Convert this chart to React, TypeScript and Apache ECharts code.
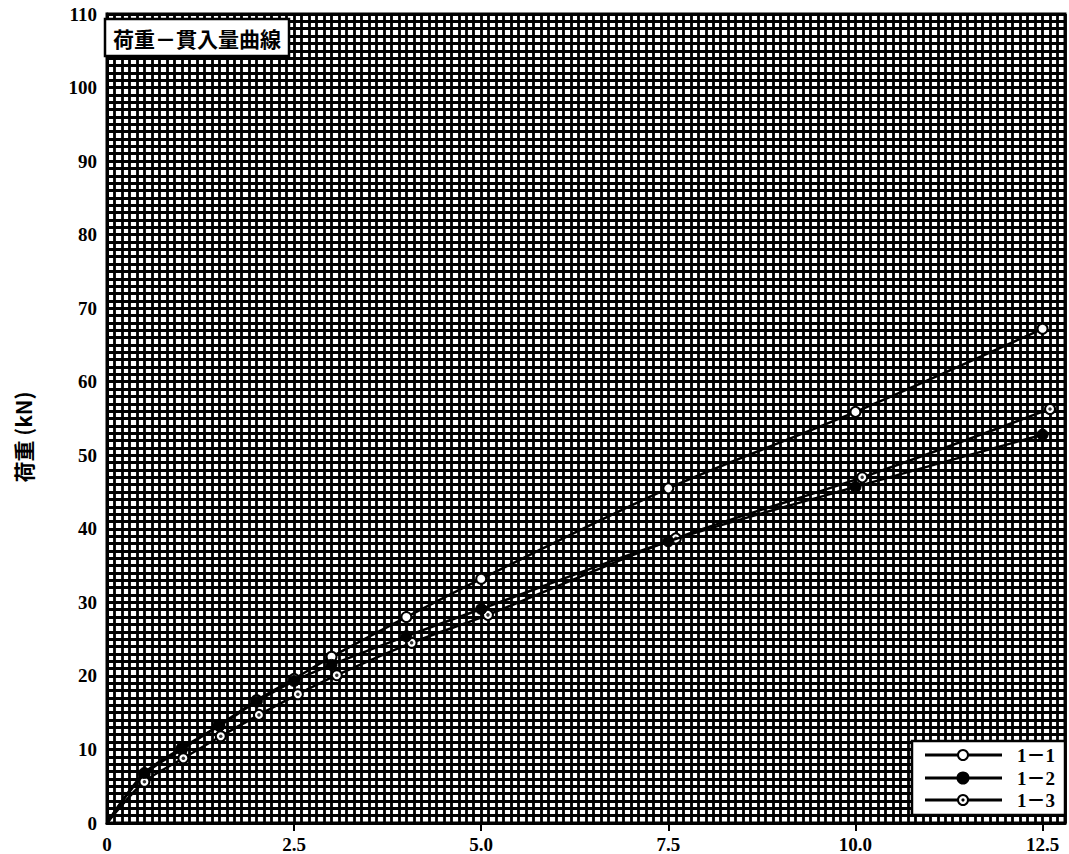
import React, { useEffect, useRef } from "react";
import * as echarts from "echarts";

// ---- data ----
const xTickValues = [0, 2.5, 5, 7.5, 10, 12.5];
const yTickValues = [0, 10, 20, 30, 40, 50, 60, 70, 80, 90, 100, 110];
const seriesNames = ["1－1", "1－2", "1－3"];

const s11X = [0, 0.5, 1, 1.5, 2, 2.5, 3, 4, 5, 7.5, 10, 12.5];
const s11Y = [0, 6.6, 10.0, 13.3, 16.7, 19.6, 22.6, 28.0, 33.2, 45.5, 55.9, 67.2];

const s12X = [0, 0.5, 1, 1.5, 2, 2.5, 3, 4, 5, 7.5, 10, 12.5];
const s12Y = [0, 6.8, 10.2, 13.2, 16.5, 19.3, 21.5, 25.4, 29.1, 38.3, 45.7, 52.8];

const s13X = [0, 0.5, 1.02, 1.52, 2.03, 2.55, 3.07, 4.07, 5.09, 7.6, 10.09, 12.6];
const s13Y = [0, 5.6, 8.8, 11.8, 14.7, 17.5, 20.1, 24.5, 28.3, 38.7, 47.0, 56.3];

const titleText = "荷重－貫入量曲線";
const yName = "荷重 (kN)";

const X_MIN = 0;
const X_MAX = 12.8;
const Y_MIN = 0;
const Y_MAX = 110;

const SERIF = "'Liberation Serif', 'DejaVu Serif', serif";
const CJK = "'Noto Sans CJK JP', 'Noto Sans CJK SC', sans-serif";

function toData(xs: number[], ys: number[]) {
  return xs.map((x, i) =>
    x === 0 && ys[i] === 0 ? { value: [x, ys[i]], symbol: "none" } : { value: [x, ys[i]] }
  );
}
function toPoints(xs: number[], ys: number[]) {
  return xs.map((x, i) => [x, ys[i]]).filter((p) => !(p[0] === 0 && p[1] === 0));
}

export default function App() {
  const ref = useRef<HTMLDivElement>(null);

  useEffect(() => {
    if (!ref.current) return;
    const chart = echarts.init(ref.current, null, { renderer: "svg" });

    const gridLine = { show: true, lineStyle: { color: "#000", width: 2.8 } };

    const legendX0 = 925;
    const legendX1 = 1002;
    const legendSymX = 963;
    const legendRows = [755, 778, 800];
    const Z = 100;

    const legendItems: any[] = [
      {
        type: "rect",
        z: Z,
        shape: { x: 912, y: 741, width: 153, height: 74 },
        style: { fill: "#fff", stroke: "#000", lineWidth: 2.5 },
      },
    ];
    legendRows.forEach((y, i) => {
      legendItems.push({
        type: "line",
        z: Z + 1,
        shape: { x1: legendX0, y1: y, x2: legendX1, y2: y },
        style: { stroke: "#000", lineWidth: 3 },
      });
      legendItems.push({
        type: "circle",
        z: Z + 2,
        shape: { cx: legendSymX, cy: y, r: i === 1 ? 5.5 : 5 },
        style: { fill: i === 1 ? "#000" : "#fff", stroke: "#000", lineWidth: 2 },
      });
      if (i === 2) {
        legendItems.push({
          type: "circle",
          z: Z + 3,
          shape: { cx: legendSymX, cy: y, r: 1.6 },
          style: { fill: "#000" },
        });
      }
      legendItems.push({
        type: "text",
        z: Z + 2,
        x: 1017,
        y: y,
        style: {
          text: seriesNames[i],
          align: "left",
          verticalAlign: "middle",
          font: `bold 19px ${SERIF}, ${CJK}`,
          fill: "#000",
        },
      });
    });

    const option: any = {
      animation: false,
      backgroundColor: "#fff",
      grid: {
        left: 107,
        top: 14,
        width: 958,
        height: 809,
        show: true,
        backgroundColor: "#fff",
        borderColor: "#000",
        borderWidth: 3,
        containLabel: false,
      },
      xAxis: [
        {
          type: "value",
          min: X_MIN,
          max: X_MAX,
          interval: 0.1,
          position: "bottom",
          axisLine: { show: false },
          axisTick: { show: false },
          axisLabel: { show: false },
          splitLine: gridLine,
        },
        {
          type: "value",
          min: X_MIN,
          max: X_MAX,
          interval: 2.5,
          position: "bottom",
          axisLine: { show: true, lineStyle: { color: "#000", width: 3 } },
          axisTick: {
            show: true,
            length: 8,
            lineStyle: { color: "#000", width: 2 },
            customValues: xTickValues.filter((v) => v > 0),
          },
          axisLabel: {
            customValues: xTickValues,
            margin: 12,
            color: "#000",
            fontSize: 19,
            fontWeight: "bold",
            fontFamily: SERIF,
            formatter: (v: number) => (v === 0 ? "0" : v.toFixed(1)),
          },
          splitLine: { show: false },
        },
      ],
      yAxis: [
        {
          type: "value",
          min: Y_MIN,
          max: Y_MAX,
          interval: 1,
          axisLine: { show: false },
          axisTick: { show: false },
          axisLabel: { show: false },
          splitLine: gridLine,
        },
        {
          type: "value",
          min: Y_MIN,
          max: Y_MAX,
          interval: 10,
          position: "left",
          axisLine: { show: true, lineStyle: { color: "#000", width: 3 } },
          axisTick: { show: false },
          axisLabel: {
            customValues: yTickValues,
            margin: 10,
            color: "#000",
            fontSize: 19,
            fontWeight: "bold",
            fontFamily: SERIF,
          },
          splitLine: { show: false },
        },
      ],
      series: [
        {
          name: seriesNames[0],
          type: "line",
          xAxisIndex: 0,
          yAxisIndex: 0,
          smooth: 0.3,
          symbol: "circle",
          symbolSize: 10,
          itemStyle: { color: "#fff", borderColor: "#000", borderWidth: 2 },
          lineStyle: { color: "#000", width: 2.5 },
          data: toData(s11X, s11Y),
          z: 3,
        },
        {
          name: seriesNames[2],
          type: "line",
          xAxisIndex: 0,
          yAxisIndex: 0,
          smooth: 0.3,
          symbol: "circle",
          symbolSize: 10,
          itemStyle: { color: "#fff", borderColor: "#000", borderWidth: 2 },
          lineStyle: { color: "#000", width: 2.5 },
          data: toData(s13X, s13Y),
          z: 3,
        },
        {
          name: seriesNames[1],
          type: "line",
          xAxisIndex: 0,
          yAxisIndex: 0,
          smooth: 0.3,
          symbol: "circle",
          symbolSize: 11,
          itemStyle: { color: "#000", borderColor: "#000", borderWidth: 1 },
          lineStyle: { color: "#000", width: 2.5 },
          data: toData(s12X, s12Y),
          z: 4,
        },
        {
          name: seriesNames[2] + " dot",
          type: "scatter",
          xAxisIndex: 0,
          yAxisIndex: 0,
          symbol: "circle",
          symbolSize: 3.5,
          itemStyle: { color: "#000" },
          data: toPoints(s13X, s13Y),
          silent: true,
          z: 5,
        },
      ],
      graphic: [
        {
          type: "rect",
          z: Z,
          shape: { x: 105, y: 19, width: 184, height: 37 },
          style: { fill: "#fff", stroke: "#000", lineWidth: 2.5 },
        },
        {
          type: "text",
          z: Z + 1,
          x: 197,
          y: 38,
          style: {
            text: titleText,
            align: "center",
            verticalAlign: "middle",
            font: `bold 21px ${CJK}`,
            fill: "#000",
          },
        },
        {
          type: "text",
          z: Z,
          x: 23,
          y: 437,
          rotation: Math.PI / 2,
          style: {
            text: yName,
            align: "center",
            verticalAlign: "middle",
            font: `bold 21px ${CJK}`,
            fill: "#000",
          },
        },
        ...legendItems,
      ],
    };

    chart.setOption(option);
    return () => chart.dispose();
  }, []);

  return (
    <div
      ref={ref}
      style={{ position: "fixed", left: 0, top: 0, width: 1069, height: 854, background: "#fff" }}
    />
  );
}
